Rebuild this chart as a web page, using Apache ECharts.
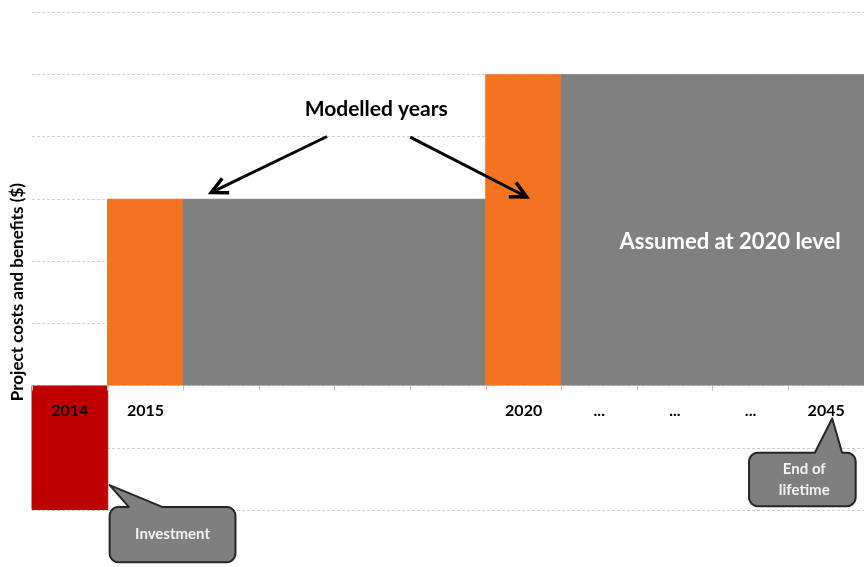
<!DOCTYPE html>
<html>
<head>
<meta charset="utf-8">
<script src="https://cdn.jsdelivr.net/npm/echarts@6/dist/echarts.min.js"></script>
<style>
  html, body { margin: 0; padding: 0; background: #fff; }
  #chart { width: 864px; height: 567px; }
</style>
</head>
<body>
<div id="chart"></div>
<script>
// Project timeline: investment year, modelled years and years assumed at the 2020 level
const years = ['2014', '2015', '', '', '', '', '2020', '...', '...', '...', '2045'];
const netValues = [-2, 3, 3, 3, 3, 3, 5, 5, 5, 5, 5];
const barKinds = ['investment', 'modelled', 'assumed', 'assumed', 'assumed', 'assumed',
                  'modelled', 'assumed', 'assumed', 'assumed', 'assumed'];
const yTicks = { min: -2, max: 6, step: 1 };

const kindColors = { investment: '#C00000', modelled: '#F47320', assumed: '#808080' };
const FONT = 'Lato, "Open Sans", sans-serif';
const LABEL_GAP = 17;   // distance of year labels below the zero line

const chart = echarts.init(document.getElementById('chart'), null, { renderer: 'canvas' });

const option = {
  animation: false,
  backgroundColor: '#ffffff',
  grid: { left: 32, right: -11, top: 12, bottom: 57, containLabel: false },
  xAxis: {
    type: 'category',
    data: years,
    axisLine: { show: false, onZero: true },
    axisTick: { show: true, length: 5, lineStyle: { color: '#bfbfbf' } },
    splitLine: { show: false },
    splitArea: { show: false },
    axisLabel: {
      interval: 0, margin: LABEL_GAP, color: '#000', fontFamily: FONT,
      fontWeight: 'bold', fontSize: 16
    },
    z: 5
  },
  yAxis: {
    type: 'value',
    min: yTicks.min, max: yTicks.max, interval: yTicks.step,
    axisLine: { show: false },
    axisTick: { show: false },
    axisLabel: { show: false },
    splitLine: { lineStyle: { color: '#d0d0d0', type: [3, 2], width: 1 } }
  },
  series: [{
    type: 'bar',
    barWidth: '101.5%',
    barCategoryGap: 0,
    data: netValues.map((v, i) => {
      const c = kindColors[barKinds[i]];
      return { value: v, itemStyle: { color: c, borderColor: c, borderWidth: 1 } };
    }),
    z: 2
  }]
};
chart.setOption(option);

// Helpers to place annotations relative to the axes
const px = (i, v) => chart.convertToPixel({ xAxisIndex: 0, yAxisIndex: 0 }, [i, v]);
const band = px(1, 0)[0] - px(0, 0)[0];
const cx = (i, off) => px(i, 0)[0] + (off || 0) * band;   // category centre + offset in bands
const edge = i => px(i, 0)[0] - band / 2;                   // left boundary of category i
const yv = v => px(0, v)[1];

// Year labels hang just below the zero line rather than the grid bottom
chart.setOption({ xAxis: { axisLabel: { margin: LABEL_GAP - (yv(yTicks.min) - yv(0)) } } });

function arrow(x1, y1, x2, y2) {
  const ang = Math.atan2(y2 - y1, x2 - x1);
  const L = 16, W = 8;
  const bx = x2 - L * Math.cos(ang), by = y2 - L * Math.sin(ang);
  return [
    { type: 'line', shape: { x1, y1, x2: x2 - 2 * Math.cos(ang), y2: y2 - 2 * Math.sin(ang) },
      style: { stroke: '#000', lineWidth: 3 }, z: 10 },
    { type: 'polyline', shape: { points: [
        [bx + W * Math.sin(ang), by - W * Math.cos(ang)],
        [x2, y2],
        [bx - W * Math.sin(ang), by + W * Math.cos(ang)]
      ] }, style: { stroke: '#000', lineWidth: 3.5, fill: null, lineJoin: 'miter' }, z: 10 }
  ];
}

// Rounded box with a pointer on its top edge, as a polygon outline
function callout(x1, y1, x2, y2, bx1, bx2, tx, ty, r) {
  const pts = [];
  const corner = (cxp, cyp, a0) => {
    for (let k = 0; k <= 6; k++) {
      const a = a0 + (k / 6) * Math.PI / 2;
      pts.push([cxp + r * Math.cos(a), cyp + r * Math.sin(a)]);
    }
  };
  corner(x1 + r, y1 + r, Math.PI);            // top-left
  pts.push([bx1, y1], [tx, ty], [bx2, y1]);   // pointer
  corner(x2 - r, y1 + r, -Math.PI / 2);       // top-right
  corner(x2 - r, y2 - r, 0);                  // bottom-right
  corner(x1 + r, y2 - r, Math.PI / 2);        // bottom-left
  return { type: 'polygon', shape: { points: pts },
           style: { fill: '#7f7f7f', stroke: '#262626', lineWidth: 2, lineJoin: 'round' }, z: 10 };
}

const textStyle = (extra) => Object.assign({
  fontFamily: FONT, fontWeight: 'bold', align: 'center', verticalAlign: 'middle'
}, extra);

const graphics = [];

// Y axis title
graphics.push({
  type: 'text', x: 18, y: yv(1.5), rotation: Math.PI / 2,
  style: textStyle({ text: 'Project costs and benefits ($)', fontSize: 17, fill: '#000' }), z: 10
});

// "Modelled years" with its two arrows
graphics.push({
  type: 'text', x: cx(4, 0.05), y: yv(4.43),
  style: textStyle({ text: 'Modelled years', fontSize: 21, fill: '#000' }), z: 10
});
graphics.push(...arrow(cx(2, 1.4), yv(4.0), cx(2, -0.13), yv(3.1)));
graphics.push(...arrow(cx(4, 0.5), yv(3.99), cx(6, 0.04), yv(3.03)));

// Label inside the extended grey block
graphics.push({
  type: 'text', x: cx(8, 0.73), y: yv(2.31),
  style: textStyle({ text: 'Assumed at 2020 level', fontSize: 22, fill: '#ffffff' }), z: 10
});

// Investment callout
{
  const x1 = edge(1) + 2, x2 = edge(1) + 1.69 * band, y1 = yv(-1.95), y2 = yv(-2.84);
  graphics.push(callout(x1, y1, x2, y2, edge(1) + 0.28 * band, edge(1) + 0.72 * band,
                        edge(1) + 2, yv(-1.6), 9));
  graphics.push({
    type: 'text', x: (x1 + x2) / 2, y: (y1 + y2) / 2,
    style: textStyle({ text: 'Investment', fontSize: 15, fill: '#f2f2f2' }), z: 11
  });
}

// End of lifetime callout
{
  const x1 = edge(10) - 0.52 * band, x2 = edge(10) + 0.89 * band, y1 = yv(-1.08), y2 = yv(-1.94);
  graphics.push(callout(x1, y1, x2, y2, cx(10, -0.15), cx(10, 0.21), cx(10, 0.08), yv(-0.53), 9));
  graphics.push({
    type: 'text', x: cx(10, -0.29), y: (y1 + y2) / 2,
    style: textStyle({ text: 'End of\nlifetime', fontSize: 15, lineHeight: 21, fill: '#f2f2f2' }), z: 11
  });
}

chart.setOption({ graphic: graphics });
</script>
</body>
</html>
